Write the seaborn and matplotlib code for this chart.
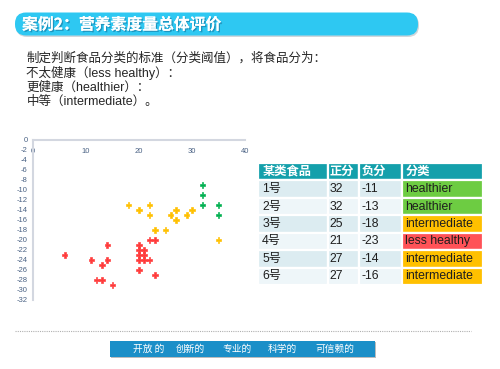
import matplotlib
matplotlib.use('Agg')
import matplotlib.pyplot as plt
import seaborn as sns
import pandas as pd
from matplotlib.patches import FancyBboxPatch, Rectangle
import matplotlib.patheffects as pe
from matplotlib.lines import Line2D

# ---------------- data ----------------
healthier_x = [32, 32, 32, 35, 35]
healthier_y = [-9, -11, -13, -13, -15]
inter_x = [18, 20, 22, 22, 26, 27, 27, 29, 30, 23, 25, 35]
inter_y = [-13, -14, -13, -15, -15, -14, -16, -15, -14, -18, -18, -20]
less_x = [22, 23, 14, 20, 20, 21, 20, 21, 6, 11, 14, 20, 21, 22, 13, 20, 23, 12, 13, 15]
less_y = [-20, -20, -21, -21, -22, -22, -23, -23, -23, -24, -24, -24, -24, -24, -25, -26, -27, -28, -28, -29]

x_ticks = [0, 10, 20, 30, 40]
y_ticks = list(range(0, -33, -2))

title = '案例2：营养素度量总体评价'
body_lines = ['制定判断食品分类的标准（分类阈值），将食品分为：',
              '不太健康（less healthy）：',
              '更健康（healthier）：',
              '中等（intermediate）。']

table_header = ['某类食品', '正分', '负分', '分类']
foods = ['1号', '2号', '3号', '4号', '5号', '6号']
pos_scores = [32, 32, 25, 21, 27, 27]
neg_scores = [-11, -13, -18, -23, -14, -16]
classes = ['healthier', 'healthier', 'intermediate', 'less healthy', 'intermediate', 'intermediate']

footer_words = ['开放 的', '创新的', '专业的', '科学的', '可信赖的']

# ---------------- style ----------------
sns.set_style('white')
plt.rcParams['font.family'] = ['Liberation Sans', 'Noto Sans CJK SC', 'DejaVu Sans']
plt.rcParams['axes.unicode_minus'] = False
CJK = ['Noto Sans CJK SC', 'DejaVu Sans']
MIX = ['Liberation Sans', 'Noto Sans CJK SC', 'DejaVu Sans']

W, H = 500, 369
fig = plt.figure(figsize=(W / 100, H / 100), dpi=100)
fig.patch.set_facecolor('white')
px = fig.dpi_scale_trans  # inches


def box(x0, y0, x1, y1):
    """pixel box (top-left origin) -> inches (bottom-left origin)"""
    return x0 / 100, (H - y1) / 100, (x1 - x0) / 100, (y1 - y0) / 100


# title banner
bx, by, bw, bh = box(15, 12.5, 418, 35.5)
fig.patches.append(FancyBboxPatch((bx + 0.01, by - 0.015), bw, bh,
                                  boxstyle='round,pad=0,rounding_size=0.11',
                                  transform=px, facecolor='#9aa6ad', edgecolor='none', alpha=0.45))
fig.patches.append(FancyBboxPatch((bx, by), bw, bh,
                                  boxstyle='round,pad=0,rounding_size=0.11',
                                  transform=px, facecolor='#2ec8f2', edgecolor='none'))
fig.text(22 / 100, (H - 24.5) / 100, title, transform=px, color='white', fontsize=11.4,
         fontweight='bold', va='center', ha='left', family=CJK,
         path_effects=[pe.withSimplePatchShadow(offset=(1, -1), shadow_rgbFace='#1a7fa8', alpha=0.7),
                       pe.Normal()])

# body text
for yy, line in zip([58.5, 73, 87.5, 102], body_lines):
    fig.text(26.5 / 100, (H - yy) / 100, line, transform=px, color='#262626', fontsize=9,
             va='center', ha='left', family=MIX)

# ---------------- scatter ----------------
df = pd.DataFrame({
    '正分': healthier_x + inter_x + less_x,
    '负分': healthier_y + inter_y + less_y,
    '分类': ['healthier'] * len(healthier_x) + ['intermediate'] * len(inter_x) + ['less healthy'] * len(less_x),
})
palette = {'healthier': '#00b050', 'intermediate': '#ffc000', 'less healthy': '#ff3b3b'}

ax = fig.add_axes([33 / W, 1 - 300 / H, (245 - 33) / W, 160 / H])
sns.scatterplot(data=df, x='正分', y='负分', hue='分类', palette=palette, marker='P',
                s=15, linewidth=0.45, edgecolor=None, legend=False, ax=ax)
for coll in ax.collections:
    coll.set_edgecolor(coll.get_facecolor())
ax.set_xlim(0, 40)
ax.set_ylim(-32, 0)
ax.set_xticks(x_ticks)
ax.set_yticks(y_ticks)
ax.set_xlabel('')
ax.set_ylabel('')
for s in ['right', 'bottom']:
    ax.spines[s].set_visible(False)
for s in ['left', 'top']:
    ax.spines[s].set_color('#d3d7e0')
    ax.spines[s].set_linewidth(1.5)
ax.tick_params(axis='x', top=True, labeltop=True, bottom=False, labelbottom=False,
               length=0, pad=-11, labelsize=5.5, labelcolor='#4a6284')
ax.tick_params(axis='y', length=0, pad=4, labelsize=5.5, labelcolor='#4a6284')
ax.patch.set_alpha(0)

# ---------------- table ----------------
axt = fig.add_axes([258 / W, 1 - 285 / H, 225 / W, 122 / H])
axt.axis('off')
cell_text = [[f, str(p), str(n), c] for f, p, n, c in zip(foods, pos_scores, neg_scores, classes)]
tbl = axt.table(cellText=cell_text, colLabels=table_header, cellLoc='left', colLoc='left',
                colWidths=[70, 31, 43, 81], bbox=[0, 0, 1, 1])
tbl.auto_set_font_size(False)
tbl.set_fontsize(8.8)
cls_colors = {'healthier': '#6dcc42', 'intermediate': '#ffc000', 'less healthy': '#ff5257'}
for (r, c), cell in tbl.get_celld().items():
    cell.set_edgecolor('white')
    cell.set_linewidth(1.6)
    cell.PAD = 0.06
    cell.get_text().set_family(MIX)
    if r == 0:
        cell.set_facecolor('#14a0ab')
        cell.get_text().set_color('white')
        cell.get_text().set_fontweight('bold')
    else:
        if c == 3:
            cell.set_facecolor(cls_colors[classes[r - 1]])
        else:
            cell.set_facecolor('#dcecf1' if r % 2 == 1 else '#eef6f9')
        cell.get_text().set_color('#1e1e1e')
    if c == 3:
        cell.PAD = 0.04

# ---------------- footer ----------------
fig.add_artist(Line2D([15 / W, 471 / W], [1 - 331 / H, 1 - 331 / H], transform=fig.transFigure,
                      color='#b0b0b0', linewidth=0.8, linestyle=(0, (1, 1))))
fx, fy, fw, fh = box(110, 341, 375, 356.5)
fig.patches.append(Rectangle((fx + 0.012, fy - 0.012), fw, fh, transform=px,
                             facecolor='#7a7a7a', edgecolor='none', alpha=0.5))
fig.patches.append(Rectangle((fx, fy), fw, fh, transform=px, facecolor='#1b8fc8', edgecolor='none'))
for xw, word in zip([133, 176, 222, 268, 315], footer_words):
    fig.text(xw / 100, (H - 348.5) / 100, word, transform=px, color='white', fontsize=7,
             va='center', ha='left', family=CJK)

fig.savefig('out.png', dpi=100)
